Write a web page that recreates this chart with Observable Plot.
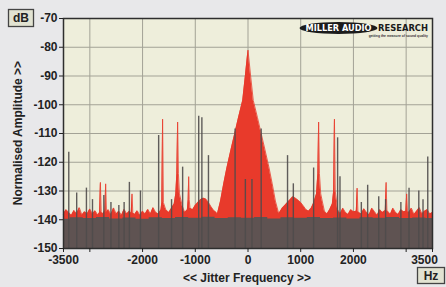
<!DOCTYPE html>
<html>
<head>
<meta charset="utf-8">
<script src="https://cdn.jsdelivr.net/npm/d3@7"></script>
<script src="https://cdn.jsdelivr.net/npm/@observablehq/plot@0.6"></script>
<style>
  html, body { margin: 0; padding: 0; background: #e8e8ea; }
  #chart { width: 446px; height: 287px; }
</style>
</head>
<body>
<div id="chart"></div>
<script>
// Red trace: [frequency Hz, dB]
const redSpectrum = [
  [-3500,-138],[-3450,-136.5],[-3400,-137.5],[-3350,-138.5],[-3300,-136.8],[-3250,-138],[-3200,-135.8],
  [-3150,-138.4],[-3100,-137.2],[-3050,-138],[-3000,-136.3],[-2950,-138],[-2900,-136.9],[-2850,-138.4],
  [-2815,-137.5],[-2800,-127],[-2785,-137.2],[-2750,-138],[-2715,-136.8],[-2700,-127.5],[-2685,-137.5],
  [-2650,-136.5],[-2600,-138.3],[-2550,-135.9],[-2500,-138],[-2450,-137],[-2400,-138.5],[-2350,-136.4],
  [-2300,-138],[-2250,-137],[-2215,-137.8],[-2200,-131],[-2185,-137.6],[-2150,-138.2],[-2100,-136.9],
  [-2050,-138.5],[-2000,-137],[-1950,-138],[-1900,-136.4],[-1850,-138],[-1800,-135.8],[-1750,-137.5],
  [-1700,-138],[-1650,-136.5],[-1635,-134],[-1620,-105],[-1605,-134],[-1560,-136.5],[-1500,-137.5],
  [-1450,-136],[-1400,-134.5],[-1370,-131],[-1350,-124],[-1335,-106],[-1320,-124],[-1300,-131],
  [-1250,-135],[-1200,-137.5],[-1150,-136.5],[-1135,-133],[-1125,-125],[-1115,-133],[-1100,-136],
  [-1050,-136.5],[-1000,-135],[-950,-134],[-900,-133],[-850,-132.5],[-800,-132.8],[-750,-134],
  [-700,-135.5],[-650,-136.8],[-600,-137.5],[-580,-138],[-520,-133.5],[-460,-127.5],[-400,-122],
  [-320,-115.5],[-250,-110],[-180,-104.5],[-100,-98.5],[-50,-90],[0,-81],[50,-90],[100,-98.5],
  [180,-104.5],[250,-110],[320,-115.5],[400,-122],[460,-127.5],[520,-133.5],[585,-138],[600,-137.5],
  [650,-136],[700,-135],[750,-134],[800,-133],[850,-132],[900,-132.5],[950,-133.2],[1000,-134],
  [1050,-135.2],[1100,-136.5],[1150,-137],[1200,-136],[1250,-134],[1300,-131],[1325,-124],[1340,-106],
  [1355,-124],[1380,-131],[1420,-134.5],[1450,-137],[1500,-138],[1550,-136.5],[1600,-134.5],[1625,-130],
  [1640,-105],[1655,-130],[1700,-136.5],[1750,-138],[1800,-136],[1850,-137.5],[1900,-138.2],[1950,-136.5],
  [2000,-137.2],[2055,-137],[2070,-129],[2085,-137],[2100,-137.5],[2150,-138],[2200,-136.2],[2250,-137.5],
  [2300,-138.3],[2350,-136],[2400,-137.2],[2450,-138.5],[2500,-136.5],[2550,-137.5],[2605,-136.8],
  [2620,-127],[2635,-136.8],[2650,-137],[2700,-138.2],[2750,-136],[2800,-137.5],[2850,-138.2],
  [2900,-136.5],[2950,-137.2],[2995,-137],[3010,-131],[3025,-137],[3050,-137.5],[3100,-136],
  [3150,-138.2],[3200,-137],[3250,-135.8],[3300,-138],[3350,-137],[3400,-136.5],[3450,-138],[3500,-137.5]
];

// Grey trace noise floor: [Hz, dB]
const greyFloor = [
  [-3500,-139.8],[-3250,-139.3],[-3000,-139.6],[-2750,-139.2],[-2500,-139.7],[-2250,-139.4],
  [-2000,-139.8],[-1750,-139.3],[-1500,-139.6],[-1250,-139.2],[-1000,-139.5],[-750,-139.1],
  [-500,-139.6],[-250,-139.3],[0,-139.5],[250,-139.2],[500,-139.7],[750,-139.3],[1000,-139.5],
  [1250,-139.2],[1500,-139.6],[1750,-139.4],[2000,-139.7],[2250,-139.3],[2500,-139.5],
  [2750,-139.2],[3000,-139.6],[3250,-139.4],[3500,-139.6]
];

// Grey trace spikes: [Hz, dB]
const greySpikes = [
  [-3400,-116.5],[-3250,-130.7],[-3065,-129],[-2950,-133],[-2735,-131.6],[-2600,-134],[-2450,-135],
  [-2350,-134],[-2250,-127],[-2040,-130],[-1695,-110.7],[-1450,-133],[-1240,-121.7],[-935,-104],
  [-875,-104.5],[-750,-117.7],[-245,-108.4],[-50,-126],[75,-126],[250,-108.4],[750,-117.7],
  [860,-127.5],[1245,-122],[1700,-111.5],[1745,-125],[2150,-134],[2270,-128],[2480,-132],
  [2610,-133],[2900,-134],[3055,-129],[3240,-130],[3320,-133],[3410,-118.2]
];

const yTicks = [-70,-80,-90,-100,-110,-120,-130,-140,-150];
const xTicks = [-3500,-3000,-2000,-1000,0,1000,2000,3000,3500];
const xTickLabels = {"-3500":"-3500","-3000":"","-2000":"-2000","-1000":"-1000","0":"0","1000":"1000","2000":"2000","3000":"","3500":""};
const xGrid = [-3000,-2000,-1000,0,1000,2000,3000];
const yTitle = "Normalised Amplitude >>";
const xTitle = "<< Jitter Frequency >>";
const yUnit = "dB";
const xUnit = "Hz";
const lastXLabel = [3500];

const RED = "#e83a2b";
const FONT = "'Liberation Sans', Arial, sans-serif";
const LOGO_FONT = "'DejaVu Sans', 'Liberation Sans', sans-serif";

const chart = Plot.plot({
  width: 446,
  height: 287,
  marginLeft: 63,
  marginRight: 14,
  marginTop: 18,
  marginBottom: 39,
  style: {background: "#e8e8ea", fontFamily: FONT, fontSize: "12px", fontWeight: "bold", color: "#222", overflow: "visible"},
  x: {type: "linear", domain: [-3500, 3500]},
  y: {type: "linear", domain: [-150, -70]},
  marks: [
    Plot.frame({fill: "#eeeedb"}),
    Plot.gridX(xGrid, {stroke: "#a3a296", strokeOpacity: 1, strokeWidth: 1}),
    Plot.gridY(yTicks, {stroke: "#a3a296", strokeOpacity: 1, strokeWidth: 1}),
    Plot.areaY(redSpectrum, {x: d => d[0], y1: -150, y2: d => d[1], fill: RED, curve: "linear"}),
    Plot.lineY(redSpectrum, {x: d => d[0], y: d => d[1], stroke: RED, strokeWidth: 0.8}),
    Plot.areaY(greyFloor, {x: d => d[0], y1: -150, y2: d => d[1], fill: "#5f5352", curve: "step"}),
    Plot.ruleX(greySpikes, {x: d => d[0], y1: -150, y2: d => d[1], stroke: "#4f4b4b", strokeWidth: 1.4, strokeOpacity: 0.9}),
    Plot.frame({stroke: "#2e2e2e", strokeWidth: 1.5}),
    Plot.axisY({ticks: yTicks, tickFormat: d => String(d), tickSize: 4, tickPadding: 2, label: null, fontSize: 12, fontWeight: "bold"}),
    Plot.axisX({ticks: xTicks, tickFormat: d => xTickLabels[String(d)], tickSize: 4, tickPadding: 3, label: null, fontSize: 12, fontWeight: "bold"}),
    Plot.text(lastXLabel, {x: d => d, y: -150, text: d => String(d), dy: 12, dx: -8, fontSize: 12, fontWeight: "bold", fill: "#222"})
  ]
});

const svg = d3.select(chart);
// dB box
svg.append("rect").attr("x", 8.5).attr("y", 9.5).attr("width", 25).attr("height", 17)
  .attr("fill", "#e2e3d2").attr("stroke", "#444").attr("stroke-width", 1.3);
svg.append("text").attr("x", 21).attr("y", 22).attr("text-anchor", "middle")
  .attr("font-family", FONT).attr("font-weight", "bold").attr("font-size", 12).attr("fill", "#222").text(yUnit);
// Hz box
svg.append("rect").attr("x", 417.5).attr("y", 267.5).attr("width", 27).attr("height", 16)
  .attr("fill", "#e2e3d2").attr("stroke", "#444").attr("stroke-width", 1.3);
svg.append("text").attr("x", 431).attr("y", 280).attr("text-anchor", "middle")
  .attr("font-family", FONT).attr("font-weight", "bold").attr("font-size", 12).attr("fill", "#222").text(xUnit);
// Axis titles
svg.append("text").attr("transform", "translate(22,133) rotate(-90)").attr("text-anchor", "middle")
  .attr("font-family", FONT).attr("font-weight", "bold").attr("font-size", 12).attr("fill", "#222").text(yTitle);
svg.append("text").attr("x", 247).attr("y", 282).attr("text-anchor", "middle")
  .attr("font-family", FONT).attr("font-weight", "bold").attr("font-size", 12).attr("fill", "#222").text(xTitle);
// Logo
svg.append("ellipse").attr("cx", 338.5).attr("cy", 28).attr("rx", 39).attr("ry", 6).attr("fill", "#1b1b1b");
svg.append("text").attr("x", 338.5).attr("y", 31).attr("text-anchor", "middle")
  .attr("font-family", LOGO_FONT).attr("font-weight", "bold").attr("font-size", 8).attr("fill", "#fff")
  .attr("textLength", 66).attr("lengthAdjust", "spacingAndGlyphs").text("MILLER AUDIO");
svg.append("text").attr("x", 378).attr("y", 31).attr("text-anchor", "start")
  .attr("font-family", LOGO_FONT).attr("font-weight", "bold").attr("font-size", 8).attr("fill", "#1b1b1b")
  .attr("textLength", 50).attr("lengthAdjust", "spacingAndGlyphs").text("RESEARCH");
svg.append("text").attr("x", 428).attr("y", 36.5).attr("text-anchor", "end")
  .attr("font-family", FONT).attr("font-weight", "bold").attr("font-size", 3.4).attr("fill", "#333")
  .text("getting the measure of sound quality");

document.getElementById("chart").appendChild(chart);
</script>
</body>
</html>
